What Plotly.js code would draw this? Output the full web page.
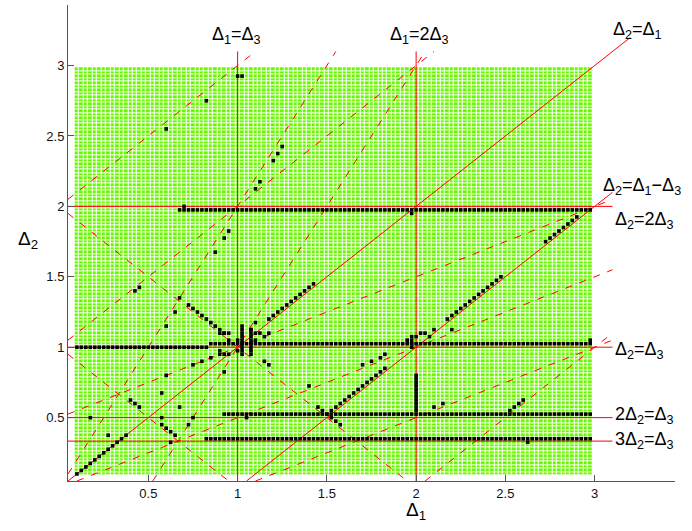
<!DOCTYPE html>
<html>
<head>
<meta charset="utf-8">
<script src="https://cdn.plot.ly/plotly-3.0.1.min.js"></script>
<style>html,body{margin:0;padding:0;background:#fff;}#chart{width:692px;height:531px;}</style>
</head>
<body>
<div id="chart"></div>
<script>
// ---------- DATA ----------
// sampled parameter grid (green region)
const gridStart = 0.1, gridEnd = 2.975, gridStep = 0.025;

// resonance lines a*Δ1 + b*Δ2 = c*Δ3  (Δ3 = 1)
const solidLines = [[-1,1,0],[-1,1,-1],[0,1,2],[0,1,1],[0,2,1],[0,3,1],[1,0,1],[1,0,2]];
const dashedLines = [[-1,1,1],[-1,1,2],[-1,1,-2],[-2,1,0],[-2,1,-1],[1,1,1],[1,1,2],[-1,2,0],[-1,2,1],[-1,2,-1]];

// black points: runs on the grid
const runsH = [[1.975,0.675,2.975],[1.025,0.85,2.975],[1.0,0.1,0.825],[0.525,0.925,2.975],[0.35,0.825,2.975]]; // [y, x0, x1]
const runsV = [[2.0,0.55,0.8],[1.025,0.95,1.15],[1.075,0.95,1.125],[1.975,1.0,1.075]]; // [x, y0, y1]
const runsUp = [[0.1,0.1,0.375],[1.175,1.2,1.425],[1.525,0.55,1.825],[2.175,1.2,2.475],[2.725,1.75,2.9],[2.525,0.55,2.6]]; // [x0,y0,x1] slope +1
const runsDown = [[0.725,1.3,0.925],[0.575,0.45,0.65],[1.45,0.575,1.575]]; // [x0,y0,x1] slope -1
const ptsX = [0.6,0.825,1.0,1.025,1.1,1.125,1.2,1.225,1.25,0.7,0.875,0.925,0.95,1.975,0.6,0.65,0.675,0.425,0.45,0.95,
  1.1,1.075,0.9,0.9,0.925,0.95,0.85,0.8,0.75,0.925,0.9,0.925,0.95,1.15,1.175,1.1,1.1,1.125,1.15,1.175,1.0,1.0,
  0.6,0.575,0.4,0.425,0.45,0.675,0.175,0.575,0.75,0.725,0.275,0.625,1.05,1.4,
  1.7,1.75,1.8,1.825,1.95,2.0,2.025,2.05,2.075,2.1,2.2,2.1,2.15,2.625,2.975];
const ptsY = [2.55,2.75,2.925,2.925,2.125,2.175,2.325,2.375,2.425,2.0,1.675,1.775,1.825,1.95,1.15,1.25,1.35,1.4,1.425,1.1,
  1.175,1.125,0.975,0.95,0.95,0.95,0.925,0.9,0.875,0.825,1.1,1.1,1.05,0.9,0.875,1.05,1.1,1.1,1.075,1.1,1.05,0.975,
  0.8,0.675,0.625,0.6,0.575,0.575,0.5,0.5,0.5,0.45,0.375,0.325,0.5,0.725,
  0.875,0.9,0.925,0.95,1.05,1.075,1.1,1.1,1.075,1.125,1.125,0.575,0.6,0.325,1.05];

const xTicks = [0.5,1,1.5,2,2.5,3];
const yTicks = [0.5,1,1.5,2,2.5,3];

// labels
const lineLabels = [
  {t:'Δ<sub>1</sub>=Δ<sub>3</sub>', x:0.995, y:3.21, xa:'center'},
  {t:'Δ<sub>1</sub>=2Δ<sub>3</sub>', x:2.02, y:3.21, xa:'center'},
  {t:'Δ<sub>2</sub>=Δ<sub>1</sub>', x:3.09, y:3.25, xa:'left'},
  {t:'Δ<sub>2</sub>=Δ<sub>1</sub>−Δ<sub>3</sub>', x:3.035, y:2.14, xa:'left'},
  {t:'Δ<sub>2</sub>=2Δ<sub>3</sub>', x:3.1, y:1.9, xa:'left'},
  {t:'Δ<sub>2</sub>=Δ<sub>3</sub>', x:3.1, y:0.975, xa:'left'},
  {t:'2Δ<sub>2</sub>=Δ<sub>3</sub>', x:3.1, y:0.515, xa:'left'},
  {t:'3Δ<sub>2</sub>=Δ<sub>3</sub>', x:3.1, y:0.337, xa:'left'}
];

// ---------- BUILD ----------
const round = v => Math.round(v*1000)/1000;
const gx = [], gy = [];
for (let v = gridStart; v <= gridEnd + 1e-9; v += gridStep) { gx.push(round(v)); gy.push(round(v)); }
const gz = gy.map(() => gx.map(() => 1));

function segment(l, lo, hi, hiX) {
  const [a,b,c] = l;
  const xmax = hiX || hi;
  if (b === 0) { const x = c/a; return [[x,x],[lo,hi]]; }
  let x0 = lo, x1 = xmax;
  const yAt = x => (c - a*x)/b;
  if (a !== 0) {
    const xa = (c - b*lo)/a, xb = (c - b*hi)/a;
    const xl = Math.min(xa,xb), xh = Math.max(xa,xb);
    x0 = Math.max(x0, xl); x1 = Math.min(x1, xh);
  }
  return [[x0,x1],[yAt(x0),yAt(x1)]];
}
function linesTrace(list, dash) {
  const X = [], Y = [];
  list.forEach(l => {
    const isDiag = (l[0]===-1 && l[1]===1 && l[2]===0);
    const s = isDiag ? segment(l, 0.05, 3.2, 3.2) : segment(l, 0.05, 3.1);
    X.push(s[0][0], s[0][1], null); Y.push(s[1][0], s[1][1], null);
  });
  return {type:'scatter', mode:'lines', x:X, y:Y, hoverinfo:'skip', showlegend:false,
          line:{color:'#ff0000', width:1, dash:dash}};
}

const bx = [], by = [];
runsH.forEach(([y,x0,x1]) => { for (let x=x0; x<=x1+1e-9; x+=gridStep){bx.push(round(x)); by.push(y);} });
runsV.forEach(([x,y0,y1]) => { for (let y=y0; y<=y1+1e-9; y+=gridStep){bx.push(x); by.push(round(y));} });
runsUp.forEach(([x0,y0,x1]) => { for (let k=0; x0+k*gridStep<=x1+1e-9; k++){bx.push(round(x0+k*gridStep)); by.push(round(y0+k*gridStep));} });
runsDown.forEach(([x0,y0,x1]) => { for (let k=0; x0+k*gridStep<=x1+1e-9; k++){bx.push(round(x0+k*gridStep)); by.push(round(y0-k*gridStep));} });
ptsX.forEach((x,i) => { bx.push(x); by.push(ptsY[i]); });

const FONT = 'Liberation Sans, Arial, Helvetica, sans-serif';
const GREEN = '#68f800';
const data = [
  {type:'heatmap', x:gx, y:gy, z:gz, colorscale:[[0,GREEN],[1,GREEN]], showscale:false,
   xgap:1, ygap:1, hoverinfo:'skip', zmin:0, zmax:2},
  linesTrace(dashedLines, '7px,8px'),
  linesTrace(solidLines, 'solid'),
  {type:'scatter', mode:'markers', x:bx, y:by, hoverinfo:'skip', showlegend:false,
   marker:{symbol:'square', size:3.6, color:'#000', line:{width:0}}}
];

const annotations = lineLabels.map(l => ({
  text:l.t, x:l.x, y:l.y, xref:'x', yref:'y', xanchor:l.xa, yanchor:'middle', showarrow:false,
  font:{family:FONT, size:18, color:'#000'}
}));
annotations.push({text:'Δ<sub>1</sub>', x:2.0, y:-0.063, xref:'x', yref:'paper', xanchor:'center', yanchor:'middle',
  showarrow:false, font:{family:FONT, size:19, color:'#000'}});
annotations.push({text:'Δ<sub>2</sub>', x:-0.066, y:0.507, xref:'paper', yref:'paper', xanchor:'center', yanchor:'middle',
  showarrow:false, font:{family:FONT, size:19, color:'#000'}});

const axisCommon = {showline:true, linecolor:'#555', linewidth:1, mirror:false, ticks:'inside', ticklen:6,
  tickcolor:'#555', tickwidth:1, showgrid:false, zeroline:false, fixedrange:true,
  tickfont:{family:FONT, size:13, color:'#111'}};

const layout = {
  width:692, height:531, margin:{l:68, r:17, t:5, b:50, pad:0},
  paper_bgcolor:'#fff', plot_bgcolor:'#fff', showlegend:false,
  xaxis:Object.assign({}, axisCommon, {range:[0.05,3.45], tickvals:xTicks, ticktext:xTicks.map(String)}),
  yaxis:Object.assign({}, axisCommon, {range:[0.05,3.43], tickvals:yTicks, ticktext:yTicks.map(String)}),
  annotations:annotations
};

Plotly.newPlot('chart', data, layout, {displayModeBar:false, staticPlot:true});
</script>
</body>
</html>
